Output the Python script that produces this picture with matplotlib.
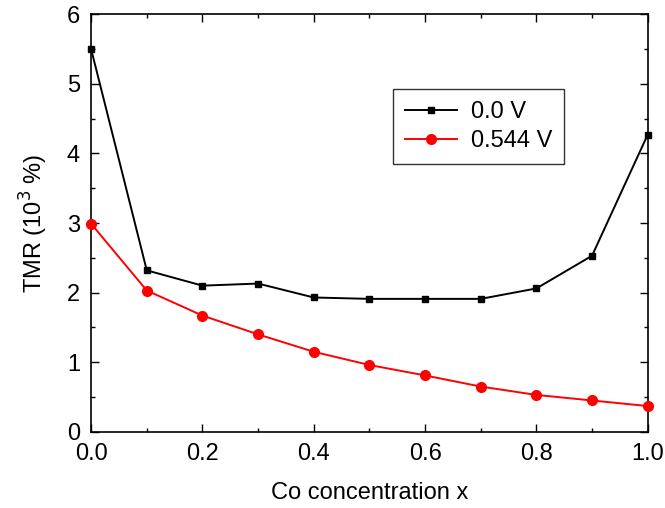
import matplotlib
matplotlib.use("Agg")
import matplotlib.pyplot as plt
from matplotlib.ticker import MultipleLocator

plt.rcParams["font.family"] = ["Liberation Sans", "DejaVu Sans"]

# ------------------------
# Data
# ------------------------
co_x = [0.0, 0.1, 0.2, 0.3, 0.4, 0.5, 0.6, 0.7, 0.8, 0.9, 1.0]
tmr_0v = [5.50, 2.32, 2.10, 2.13, 1.93, 1.91, 1.91, 1.91, 2.06, 2.53, 4.27]
tmr_0544v = [2.99, 2.03, 1.67, 1.40, 1.15, 0.96, 0.81, 0.65, 0.53, 0.45, 0.37]

fig = plt.figure(figsize=(6.65, 5.08), dpi=100)
ax = fig.add_axes([0.137, 0.150, 0.837, 0.822])

ax.plot(co_x, tmr_0v, color="black", marker="s", markersize=5, lw=1.4,
        label="0.0 V", clip_on=False, zorder=3)
ax.plot(co_x, tmr_0544v, color="red", marker="o", markersize=7, lw=1.4,
        label="0.544 V", clip_on=False, zorder=3)

ax.set_xlim(0, 1.0)
ax.set_ylim(0, 6)
ax.xaxis.set_minor_locator(MultipleLocator(0.1))
ax.yaxis.set_major_locator(MultipleLocator(1))
ax.yaxis.set_minor_locator(MultipleLocator(0.5))
ax.set_xticks([0, 0.2, 0.4, 0.6, 0.8, 1.0])
ax.set_xticklabels(["0.0", "0.2", "0.4", "0.6", "0.8", "1.0"])

ax.tick_params(which="both", direction="in", top=True, right=True,
               labelsize=17, width=1)
ax.tick_params(which="major", length=6)
ax.tick_params(which="minor", length=3)
ax.tick_params(axis="x", pad=8)
ax.tick_params(axis="y", pad=8)
for s in ax.spines.values():
    s.set_linewidth(1.2)

ax.set_xlabel("Co concentration x", fontsize=17, labelpad=12)
ax.set_ylabel("TMR (10$^3$ %)", fontsize=17, labelpad=12)

leg = ax.legend(loc="upper left", bbox_to_anchor=(0.542, 0.82), fontsize=17,
                frameon=True, fancybox=False, edgecolor="black",
                handlelength=2.2, handletextpad=0.6, borderpad=0.5,
                labelspacing=0.3, borderaxespad=0)
leg.get_frame().set_linewidth(1.0)

fig.savefig("out.png", dpi=100)
